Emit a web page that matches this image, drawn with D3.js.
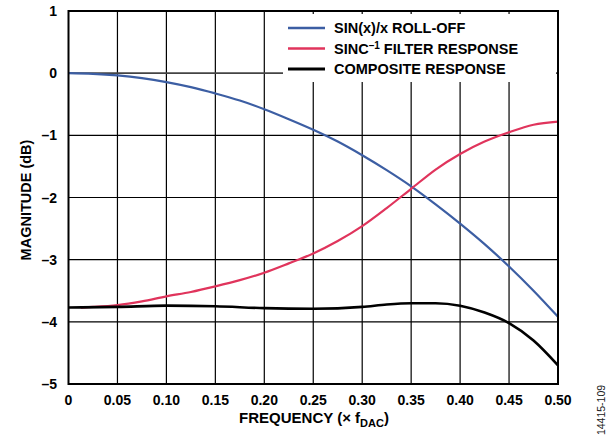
<!DOCTYPE html>
<html>
<head>
<meta charset="utf-8">
<script src="https://cdn.jsdelivr.net/npm/d3@7"></script>
<style>
  body { margin: 0; background: #fff; }
  text { font-family: "Liberation Sans", Arial, sans-serif; font-weight: bold; }
</style>
</head>
<body>
<svg id="chart" width="609" height="438"></svg>
<script>
// values
const xTicks = [0, 0.05, 0.10, 0.15, 0.20, 0.25, 0.30, 0.35, 0.40, 0.45, 0.50];
const yTicks = [1, 0, -1, -2, -3, -4, -5];

const sincFreq = [0, 0.025, 0.05, 0.075, 0.10, 0.125, 0.15, 0.175, 0.20, 0.225, 0.25,
  0.275, 0.30, 0.325, 0.35, 0.375, 0.40, 0.425, 0.45, 0.475, 0.50];
const sincRollOff = [0, -0.01, -0.036, -0.08, -0.144, -0.225, -0.326, -0.44, -0.58, -0.74, -0.91,
  -1.10, -1.32, -1.56, -1.82, -2.11, -2.42, -2.75, -3.11, -3.50, -3.92];

const invFreq = [0.0125, 0.025, 0.05, 0.075, 0.10, 0.125, 0.15, 0.175, 0.20, 0.225, 0.25,
  0.275, 0.30, 0.325, 0.35, 0.375, 0.40, 0.425, 0.45, 0.475, 0.50];
const invSinc = [-3.77, -3.76, -3.73, -3.67, -3.59, -3.52, -3.43, -3.33, -3.21, -3.06, -2.90,
  -2.70, -2.46, -2.17, -1.86, -1.55, -1.30, -1.10, -0.95, -0.83, -0.78];

const compFreq = [0, 0.05, 0.10, 0.15, 0.20, 0.25, 0.30, 0.325, 0.35, 0.375, 0.40, 0.425, 0.45, 0.475, 0.50];
const composite = [-3.77, -3.76, -3.74, -3.75, -3.78, -3.79, -3.76, -3.72, -3.70, -3.70, -3.74, -3.85, -4.02, -4.30, -4.70];

const legendLabels = ["SIN(x)/x ROLL-OFF", "SINC", "COMPOSITE RESPONSE"];
const colors = ["#3c5ea3", "#e0345c", "#000000"];

const svg = d3.select("#chart");
const m = { left: 68.5, right: 558, top: 11, bottom: 384 };

const x = d3.scaleLinear().domain([0, 0.5]).range([m.left, m.right]);
const y = d3.scaleLinear().domain([-5, 1]).range([m.bottom, m.top]);

// grid
const grid = svg.append("g");
grid.selectAll(".vg").data(xTicks.slice(1, -1)).join("line")
  .attr("x1", d => x(d)).attr("x2", d => x(d))
  .attr("y1", m.top).attr("y2", m.bottom)
  .attr("stroke", "#000").attr("stroke-width", 1.2);
grid.selectAll(".hg").data(yTicks.slice(1, -1)).join("line")
  .attr("x1", m.left).attr("x2", m.right)
  .attr("y1", d => y(d)).attr("y2", d => y(d))
  .attr("stroke", d => d === 0 ? "#444" : "#000").attr("stroke-width", d => d === 0 ? 1.6 : 1.2);

// tick labels
svg.append("g").selectAll("text").data(yTicks).join("text")
  .attr("x", 57).attr("y", d => y(d) + 5)
  .attr("text-anchor", "end").attr("font-size", 14)
  .text(d => d < 0 ? "\u2013" + Math.abs(d) : d);

svg.append("g").selectAll("text").data(xTicks).join("text")
  .attr("x", d => x(d)).attr("y", 405)
  .attr("text-anchor", "middle").attr("font-size", 14)
  .text(d => d === 0 ? "0" : d.toFixed(2));

// curves
const line = d3.line().x(d => x(d[0])).y(d => y(d[1])).curve(d3.curveMonotoneX);
const series = [
  d3.zip(sincFreq, sincRollOff),
  d3.zip(invFreq, invSinc),
  d3.zip(compFreq, composite)
];
svg.append("g").selectAll("path").data(series).join("path")
  .attr("d", line)
  .attr("fill", "none")
  .attr("stroke", (d, i) => colors[i])
  .attr("stroke-width", (d, i) => i === 2 ? 2.6 : 2.2);

// legend
const lg = svg.append("g");
lg.append("rect").attr("x", 283).attr("y", 14).attr("width", 273).attr("height", 68).attr("fill", "#fff");
legendLabels.forEach((lab, i) => {
  const ly = 28 + i * 20.5;
  lg.append("line").attr("x1", 288).attr("x2", 325).attr("y1", ly).attr("y2", ly)
    .attr("stroke", colors[i]).attr("stroke-width", i === 2 ? 3 : 2.4);
  const t = lg.append("text").attr("x", 334).attr("y", ly + 5).attr("font-size", 14.5);
  if (i === 1) {
    t.append("tspan").text("SINC");
    t.append("tspan").attr("dy", -5).attr("font-size", 10).text("\u20131");
    t.append("tspan").attr("dy", 5).text(" FILTER RESPONSE");
  } else {
    t.text(lab);
  }
});

// frame
svg.append("rect").attr("x", m.left).attr("y", m.top)
  .attr("width", m.right - m.left).attr("height", m.bottom - m.top)
  .attr("fill", "none").attr("stroke", "#000").attr("stroke-width", 2);

// axis titles
const xt = svg.append("text").attr("x", 314).attr("y", 423).attr("text-anchor", "middle").attr("font-size", 15);
xt.append("tspan").text("FREQUENCY (\u00d7 f");
xt.append("tspan").attr("dy", 4).attr("font-size", 11).text("DAC");
xt.append("tspan").attr("dy", -4).text(")");

svg.append("text").attr("transform", "translate(31,200) rotate(-90)")
  .attr("text-anchor", "middle").attr("font-size", 14.5).text("MAGNITUDE (dB)");

svg.append("text").attr("transform", "translate(605,410) rotate(-90)")
  .attr("text-anchor", "middle").attr("font-size", 10.5)
  .style("font-weight", "normal").attr("fill", "#222").text("14415-109");
</script>
</body>
</html>
